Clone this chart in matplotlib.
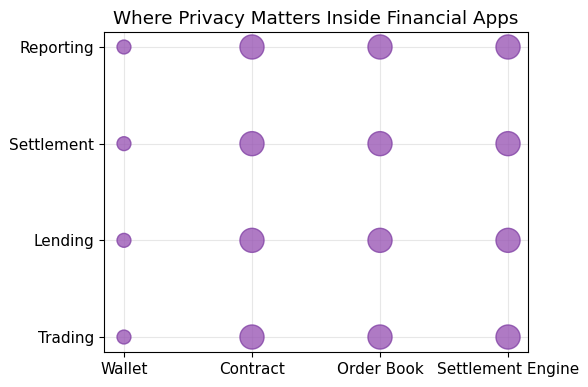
import matplotlib
matplotlib.use("Agg")
import matplotlib.pyplot as plt

layers = ["Wallet", "Contract", "Order Book", "Settlement Engine"]
use_cases = ["Trading", "Lending", "Settlement", "Reporting"]
# privacy importance per (use_case, layer)
importance = [
    [1, 3, 3, 3],  # Trading
    [1, 3, 3, 3],  # Lending
    [1, 3, 3, 3],  # Settlement
    [1, 3, 3, 3],  # Reporting
]

fig, ax = plt.subplots(figsize=(5.88, 3.87), dpi=100)
xs, ys, ss = [], [], []
for yi, row in enumerate(importance):
    for xi, v in enumerate(row):
        xs.append(xi)
        ys.append(yi)
        ss.append(v * 100)
ax.scatter(xs, ys, s=ss, color="#9b59b6", alpha=0.8, edgecolors="#8344a6", linewidths=1, zorder=3)
ax.set_xticks(range(len(layers)))
ax.set_xticklabels(layers, fontsize=11)
ax.set_yticks(range(len(use_cases)))
ax.set_yticklabels(use_cases, fontsize=11)
ax.set_xlim(-0.156, 3.156)
ax.set_ylim(-0.155, 3.155)
ax.grid(True, alpha=0.3)
ax.set_title("Where Privacy Matters Inside Financial Apps", fontsize=13.2)
fig.subplots_adjust(left=104/588, right=528/588, top=1-32/387, bottom=1-352/387)
fig.savefig("out.png", dpi=100)
